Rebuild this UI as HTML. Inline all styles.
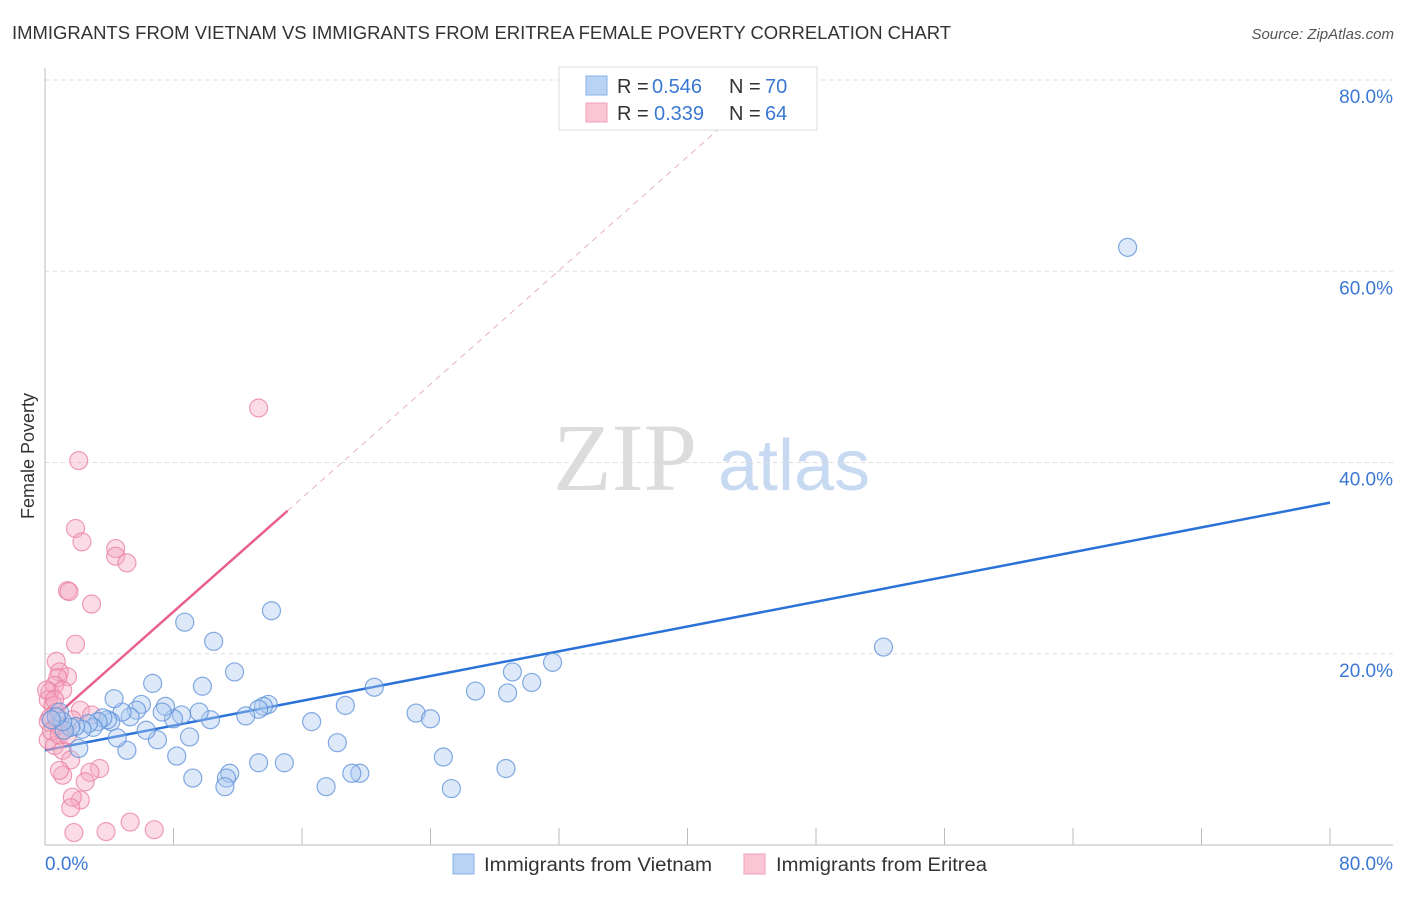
<!DOCTYPE html>
<html><head><meta charset="utf-8"><style>
body{margin:0;background:#fff;font-family:"Liberation Sans",sans-serif}
svg text{font-family:"Liberation Sans",sans-serif}
</style></head><body>
<svg id="chart" width="1406" height="892" xmlns="http://www.w3.org/2000/svg">
<text x="12" y="39" font-size="18" fill="#333" textLength="939" lengthAdjust="spacingAndGlyphs">IMMIGRANTS FROM VIETNAM VS IMMIGRANTS FROM ERITREA FEMALE POVERTY CORRELATION CHART</text>
<text x="1394" y="39" font-size="15" fill="#555" text-anchor="end" font-style="italic">Source: ZipAtlas.com</text>
<text transform="translate(34,456) rotate(-90)" font-size="18" fill="#333" text-anchor="middle">Female Poverty</text>
<g>
<text x="553" y="490" font-size="96" fill="#dcdcdc" style="font-family:'Liberation Serif',serif">ZIP</text>
<text x="718" y="490" font-size="72" fill="#c8daf2">atlas</text>
</g>
<g id="grid"></g><g id="axes"></g><g id="trend"></g><g id="pts"></g>
<g>
<rect x="559" y="67" width="258" height="63" fill="#fff" stroke="#ddd"/>
<rect x="586" y="76" width="21" height="19" fill="#b9d3f5" stroke="#8ab2e8"/>
<rect x="586" y="103" width="21" height="19" fill="#fac6d6" stroke="#f0a0ba"/>
<text x="617" y="93" font-size="20" fill="#333">R =</text>
<text x="652" y="93" font-size="20" fill="#3b78d4">0.546</text>
<text x="729" y="93" font-size="20" fill="#333">N =</text>
<text x="765" y="93" font-size="20" fill="#3b78d4">70</text>
<text x="617" y="120" font-size="20" fill="#333">R =</text>
<text x="654" y="120" font-size="20" fill="#3b78d4">0.339</text>
<text x="729" y="120" font-size="20" fill="#333">N =</text>
<text x="765" y="120" font-size="20" fill="#3b78d4">64</text>
</g>
<g>
<rect x="453" y="854" width="21" height="20" fill="#b9d3f5" stroke="#8ab2e8"/>
<text x="484" y="871" font-size="19" fill="#333" textLength="228" lengthAdjust="spacingAndGlyphs">Immigrants from Vietnam</text>
<rect x="744" y="854" width="21" height="20" fill="#fac6d6" stroke="#f0a0ba"/>
<text x="776" y="871" font-size="19" fill="#333" textLength="211" lengthAdjust="spacingAndGlyphs">Immigrants from Eritrea</text>
</g>
</svg>
<script>
const yTicks=[20,40,60,80];
const yTickLabels=["20.0%","40.0%","60.0%","80.0%"];
const xTicks=[8,16,24,32,40,48,56,64,72,80];
const blueX=[67.4,52.2,31.6,30.3,29.1,28.8,26.8,23.1,24.0,24.8,25.3,28.7,20.5,18.7,18.2,17.5,16.6,19.6,19.1,14.1,13.9,13.6,13.3,12.5,14.9,13.3,11.8,11.5,11.3,11.2,10.5,10.3,9.8,9.6,9.2,8.7,9.0,8.5,8.2,8.0,7.5,7.3,7.0,6.7,6.3,6.0,5.7,5.3,5.1,4.8,4.5,4.3,4.1,3.9,3.6,3.3,3.0,2.7,2.3,2.1,1.9,1.6,1.2,1.1,0.9,0.7,0.4];
const blueY=[62.5,20.7,19.1,17.0,18.1,15.9,16.1,13.8,13.2,9.2,5.9,8.0,16.5,14.6,10.7,6.1,12.9,7.5,7.5,24.5,14.7,14.5,14.2,13.5,8.6,8.6,18.1,7.5,7.0,6.1,21.3,13.1,16.6,13.9,7.0,23.3,11.3,13.6,9.3,13.2,14.5,13.9,11.0,16.9,12.0,14.7,14.1,13.4,9.9,13.9,11.2,15.3,12.9,13.1,13.3,12.9,12.3,12.7,12.1,10.1,12.4,12.3,12.0,12.9,13.9,13.4,13.1];
const pinkX=[13.3,2.1,1.9,2.3,4.4,4.4,5.1,1.4,1.5,2.9,1.9,0.7,0.9,1.4,0.8,0.6,0.3,1.1,0.2,0.5,0.7,0.3,0.8,1.1,0.2,0.6,1.1,2.2,2.9,1.6,1.1,0.9,3.4,2.8,2.5,2.2,1.7,1.6,1.8,3.8,5.3,6.8,0.2,0.4,0.1,0.6,0.9,1.4,1.7];
const pinkY=[45.7,40.2,33.1,31.7,31.0,30.2,29.5,26.6,26.5,25.2,21.0,19.2,18.1,17.6,17.5,16.7,16.0,16.2,15.2,14.6,13.9,13.3,12.5,12.0,11.0,10.4,9.9,14.1,13.6,8.9,7.3,7.8,8.0,7.6,6.6,4.7,5.0,3.9,1.3,1.4,2.4,1.6,12.9,11.9,16.2,15.2,11.5,11.5,13.1];
const blueTrend=[9.9,35.8];   // intercept, value at x=80
const pinkTrend=[12.5,1.487]; // intercept, slope
const pinkSolidEnd=15.1, pinkDashEnd=43.3;

const NS="http://www.w3.org/2000/svg";
const X0=45,X1=1330,Y0=845,Y80=80;
const sx=v=>X0+(X1-X0)*v/80;
const sy=v=>Y0-(Y0-Y80)*v/80;
function mk(tag,attrs,parent){const e=document.createElementNS(NS,tag);for(const k in attrs)e.setAttribute(k,attrs[k]);parent.appendChild(e);return e;}
const grid=document.getElementById('grid'),axes=document.getElementById('axes'),trend=document.getElementById('trend'),pts=document.getElementById('pts');
yTicks.forEach((t,i)=>{
 const l=mk('line',{x1:X0,x2:1393,y1:sy(t),y2:sy(t),stroke:'#ddd','stroke-dasharray':'4,4'},grid);
 
 
 const tx=mk('text',{x:1393,y:sy(t)+23,'font-size':19,fill:'#3b78d4','text-anchor':'end'},grid);
 tx.textContent=yTickLabels[i];
 
 
});
const ax=mk('line',{x1:X0,x2:X0,y1:68,y2:Y0,stroke:'#bbb'},axes);


const bx=mk('line',{x1:X0,x2:1393,y1:Y0,y2:Y0,stroke:'#bbb'},axes);


xTicks.forEach(t=>{
 const l=mk('line',{x1:sx(t),x2:sx(t),y1:828,y2:Y0,stroke:'#bbb'},axes);
 
 
});
const xl0=mk('text',{x:45,y:870,'font-size':19,fill:'#3b78d4'},axes);xl0.textContent='0.0%';


const xl1=mk('text',{x:1393,y:870,'font-size':19,fill:'#3b78d4','text-anchor':'end'},axes);xl1.textContent='80.0%';


function dot(x,y,fill,stroke,name){
 const c=mk('circle',{cx:sx(x),cy:sy(y),r:9,fill:fill,'fill-opacity':0.4,stroke:stroke,'stroke-opacity':0.75,'stroke-width':1.2},pts);
 
 
}
pinkX.forEach((x,i)=>dot(x,pinkY[i],'#f4a8c0','#e87ea0','eritrea-point'));
blueX.forEach((x,i)=>dot(x,blueY[i],'#a9c8f0','#5b8fd8','vietnam-point'));
const bt=mk('line',{x1:sx(0),y1:sy(blueTrend[0]),x2:sx(80),y2:sy(blueTrend[1]),stroke:'#2a72d8','stroke-width':2.5},trend);


const pt=mk('line',{x1:sx(0),y1:sy(pinkTrend[0]),x2:sx(pinkSolidEnd),y2:sy(pinkTrend[0]+pinkTrend[1]*pinkSolidEnd),stroke:'#e8608c','stroke-width':2.5},trend);


const pd=mk('line',{x1:sx(pinkSolidEnd),y1:sy(pinkTrend[0]+pinkTrend[1]*pinkSolidEnd),x2:sx(pinkDashEnd),y2:sy(pinkTrend[0]+pinkTrend[1]*pinkDashEnd),stroke:'#e8b0c4','stroke-width':1,'stroke-dasharray':'6,5'},trend);


</script>
</body></html>
